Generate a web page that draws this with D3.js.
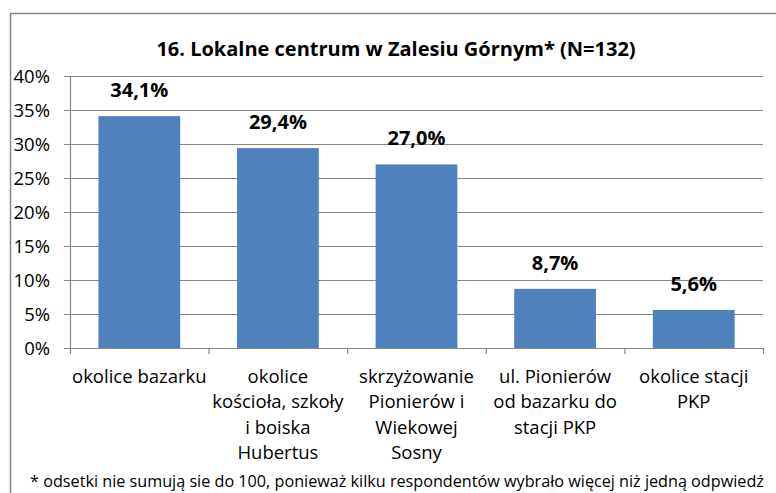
<!DOCTYPE html>
<html>
<head>
<meta charset="utf-8">
<script src="https://cdn.jsdelivr.net/npm/d3@7"></script>
<style>
  body { margin: 0; background: #fff; }
  text { font-family: "Open Sans", sans-serif; fill: #000; }
</style>
</head>
<body>
<script>
// Data
var categories = [
    ["okolice bazarku"],
    ["okolice", "kościoła, szkoły", "i boiska", "Hubertus"],
    ["skrzyżowanie", "Pionierów i", "Wiekowej", "Sosny"],
    ["ul. Pionierów", "od bazarku do", "stacji PKP"],
    ["okolice stacji", "PKP"]
];
var values = [34.1, 29.4, 27.0, 8.7, 5.6];
var valueLabels = ["34,1%", "29,4%", "27,0%", "8,7%", "5,6%"];
var yTicks = [0, 5, 10, 15, 20, 25, 30, 35, 40];

var W = 776, H = 493;
var margin = {top: 76, right: 13, bottom: 145, left: 70},
    width = W - margin.left - margin.right,
    height = H - margin.top - margin.bottom;

var svg = d3.select("body").append("svg")
    .attr("width", W)
    .attr("height", H);

// outer frame (only top and left show in the picture)
svg.append("path")
    .attr("d", "M10.5," + H + "V13.5H" + W)
    .attr("fill", "none")
    .attr("stroke", "#868686")
    .attr("stroke-width", 1.5);

svg.append("text")
    .attr("x", 396)
    .attr("y", 56)
    .attr("text-anchor", "middle")
    .style("font-weight", "bold")
    .style("font-size", "20px")
    .text("16. Lokalne centrum w Zalesiu Górnym* (N=132)");

var g = svg.append("g")
    .attr("transform", "translate(" + margin.left + "," + margin.top + ")");

var x = d3.scaleBand()
    .domain(d3.range(values.length))
    .range([0, width])
    .paddingInner(0.41)
    .paddingOuter(0.205);

var y = d3.scaleLinear()
    .domain([0, 40])
    .range([height, 0]);

// gridlines
g.selectAll(".grid")
    .data(yTicks)
    .enter().append("line")
    .attr("x1", -6)
    .attr("x2", width)
    .attr("y1", d => y(d) + 0.5)
    .attr("y2", d => y(d) + 0.5)
    .attr("stroke", "#868686")
    .attr("stroke-width", 1.2);

// y axis line
g.append("line")
    .attr("x1", 0.5).attr("x2", 0.5)
    .attr("y1", 0).attr("y2", height)
    .attr("stroke", "#868686")
    .attr("stroke-width", 1.2);

g.selectAll(".ylab")
    .data(yTicks)
    .enter().append("text")
    .attr("x", -20)
    .attr("y", d => y(d))
    .attr("dy", "0.36em")
    .attr("text-anchor", "end")
    .style("font-size", "18.5px")
    .text(d => d + "%");

// bars
g.selectAll(".bar")
    .data(values)
    .enter().append("rect")
    .attr("x", (d, i) => x(i))
    .attr("y", d => y(d))
    .attr("width", x.bandwidth())
    .attr("height", d => height - y(d))
    .attr("fill", "#4F81BD");

// x axis ticks at category boundaries
var step = x.step();
g.selectAll(".xtick")
    .data(d3.range(values.length + 1))
    .enter().append("line")
    .attr("x1", d => d * step + 0.5)
    .attr("x2", d => d * step + 0.5)
    .attr("y1", height)
    .attr("y2", height + 6)
    .attr("stroke", "#868686")
    .attr("stroke-width", 1.2);

// value labels
g.selectAll(".val")
    .data(values)
    .enter().append("text")
    .attr("x", (d, i) => x(i) + x.bandwidth() / 2)
    .attr("y", d => y(d) - 19)
    .attr("text-anchor", "middle")
    .style("font-weight", "bold")
    .style("font-size", "20px")
    .text((d, i) => valueLabels[i]);

// category labels
var cat = g.selectAll(".cat")
    .data(categories)
    .enter().append("text")
    .attr("x", (d, i) => x(i) + x.bandwidth() / 2)
    .attr("y", height + 35)
    .attr("text-anchor", "middle")
    .style("font-size", "18.5px");

cat.selectAll("tspan")
    .data(d => d)
    .enter().append("tspan")
    .attr("x", function() { return d3.select(this.parentNode).attr("x"); })
    .attr("dy", (d, i) => i === 0 ? 0 : 25.3)
    .text(d => d);

svg.append("text")
    .attr("x", 397)
    .attr("y", 487)
    .attr("text-anchor", "middle")
    .style("font-size", "16.2px")
    .text("* odsetki nie sumują sie do 100, ponieważ kilku respondentów wybrało więcej niż jedną odpwiedź");
</script>
</body>
</html>
